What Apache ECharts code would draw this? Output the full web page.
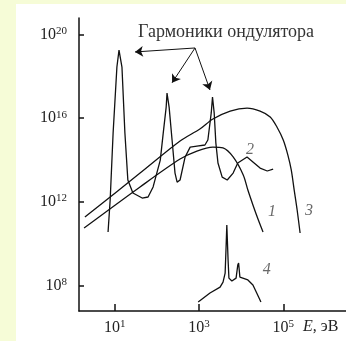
<!DOCTYPE html>
<html>
<head>
<meta charset="utf-8">
<script src="https://cdn.jsdelivr.net/npm/echarts@6/dist/echarts.min.js"></script>
<style>
  html, body { margin: 0; padding: 0; }
  .box { position: relative; width: 346px; height: 341px; background: #f6fcd7; overflow: hidden; }
  .chart { position: absolute; left: 16px; top: 4px; width: 330px; height: 337px; background: #fff; }
</style>
</head>
<body>
<div class="box"><div class="chart" id="chart"></div></div>
<script>
// все значения — десятичные логарифмы (lg E, lg потока)
const curve1E = [0.27, 1.60, 2.55, 2.95, 3.33, 3.57, 3.81, 4.05, 4.16, 4.28, 4.40, 4.52]
const curve1F = [10.76, 12.72, 14.05, 14.43, 14.62, 14.58, 14.15, 13.29, 12.57, 11.86, 11.19, 10.57]

const curve2E = [0.84, 0.89, 0.96, 1.05, 1.10, 1.17, 1.24, 1.31, 1.43, 1.65, 1.79, 1.91, 2.08, 2.15, 2.22, 2.24,
  2.29, 2.36, 2.43, 2.48, 2.55, 2.67, 2.79, 2.95, 3.14, 3.21, 3.29, 3.32, 3.36, 3.40, 3.45, 3.55, 3.67,
  3.81, 3.92, 4.14, 4.28, 4.45, 4.62, 4.76]
const curve2F = [10.57, 12.1, 15.29, 18.44, 19.25, 18.44, 15.29, 13.05, 12.43, 12.19, 12.24, 12.72, 14.0, 15.29, 16.53, 17.2,
  16.53, 14.96, 13.38, 12.95, 13.05, 14.15, 14.62, 14.67, 14.72, 14.96, 16.25, 17.01, 16.25, 14.81, 13.86, 13.19, 13.05,
  13.38, 13.86, 14.15, 13.91, 13.62, 13.48, 13.57]

const curve3E = [0.29, 1.60, 2.55, 3.02, 3.33, 3.74, 4.14, 4.45, 4.69, 4.85, 5.00, 5.11, 5.19, 5.26, 5.33, 5.40]
const curve3F = [11.28, 13.38, 14.91, 15.48, 15.96, 16.34, 16.48, 16.34, 16.06, 15.58, 14.96, 14.24, 13.53, 12.57, 11.62, 10.52]

const curve4E = [2.98, 3.02, 3.26, 3.50, 3.57, 3.62, 3.64, 3.66, 3.69, 3.71, 3.78, 3.88, 3.92, 3.94, 3.97, 4.04, 4.16, 4.28, 4.37, 4.47]
const curve4F = [7.23, 7.32, 7.66, 7.94, 8.18, 8.61, 9.71, 10.9, 9.23, 8.37, 8.23, 8.37, 8.99, 9.09, 8.42, 8.37, 8.28, 8.04, 7.66, 7.23]

const xTicks = [1, 3, 5]
const yTicks = [8, 12, 16, 20]

// стрелки от подписи к пикам гармоник
const arrowFrom = [2.905, 19.35]
const arrowTo = [[1.48, 19.16], [2.36, 17.69], [3.26, 17.35]]

// номера кривых
const curveNames = ['1', '2', '3', '4']
const curveNameE = [4.73, 4.21, 5.61, 4.61]
const curveNameF = [11.52, 14.48, 11.57, 8.75]

const titleText = 'Гармоники ондулятора'

const zip = (a, b) => a.map((v, i) => [v, b[i]])
const serif = '"Liberation Serif", "DejaVu Serif", serif'

const powLabel = {
  fontFamily: serif,
  color: '#222',
  formatter: v => '{b|10}{s|' + v + '}',
  rich: {
    b: { fontSize: 16, fontFamily: serif, color: '#222', lineHeight: 18 },
    s: { fontSize: 11, fontFamily: serif, color: '#222', verticalAlign: 'top', lineHeight: 18 }
  }
}

const lineOf = (name, e, f, smooth) => ({
  name,
  type: 'line',
  data: zip(e, f),
  showSymbol: false,
  smooth: smooth,
  silent: true,
  lineStyle: { color: '#111', width: 1.3 }
})

const instance = echarts.init(document.getElementById('chart'))
instance.setOption({
  animation: false,
  title: {
    text: titleText,
    left: 117,
    top: 14,
    textStyle: { fontFamily: serif, fontSize: 18, fontWeight: 'normal', color: '#333' }
  },
  graphic: [{
    type: 'text',
    left: 287,
    top: 315,
    style: {
      text: '{i|E}, эВ',
      fill: '#222',
      font: '16px ' + serif,
      rich: { i: { fontStyle: 'italic', fontSize: 16, fontFamily: serif, fill: '#222' } }
    }
  }],
  grid: { left: 63, top: 14, right: 0, bottom: 30 },
  xAxis: {
    type: 'value',
    min: 0.15,
    max: 6.49,
    axisLine: { lineStyle: { color: '#111', width: 1.5 } },
    axisTick: { inside: true, length: 7, customValues: xTicks, lineStyle: { color: '#111', width: 1.5 } },
    axisLabel: Object.assign({ customValues: xTicks, margin: 8 }, powLabel),
    splitLine: { show: false }
  },
  yAxis: {
    type: 'value',
    min: 6.8,
    max: 20.78,
    axisLine: { show: true, lineStyle: { color: '#111', width: 1.5 } },
    axisTick: { show: true, inside: true, length: 5, customValues: yTicks, lineStyle: { color: '#111', width: 1.5 } },
    axisLabel: Object.assign({ customValues: yTicks, margin: 12 }, powLabel),
    splitLine: { show: false }
  },
  series: [
    lineOf('1', curve1E, curve1F, 0.3),
    lineOf('2', curve2E, curve2F, false),
    lineOf('3', curve3E, curve3F, 0.3),
    lineOf('4', curve4E, curve4F, false),
    {
      name: 'arrows',
      type: 'line',
      data: [],
      silent: true,
      markLine: {
        silent: true,
        symbol: ['none', 'arrow'],
        symbolSize: 8,
        label: { show: false },
        lineStyle: { color: '#111', width: 1, type: 'solid' },
        data: arrowTo.map(t => [{ coord: arrowFrom }, { coord: t }])
      }
    },
    {
      name: 'curveNames',
      type: 'scatter',
      silent: true,
      symbolSize: 1,
      itemStyle: { color: 'rgba(0,0,0,0)' },
      data: curveNames.map((n, i) => [curveNameE[i], curveNameF[i], n]),
      label: {
        show: true,
        position: 'inside',
        formatter: p => p.value[2],
        fontFamily: serif,
        fontStyle: 'italic',
        fontSize: 16,
        color: '#444'
      }
    }
  ]
})
</script>
</body>
</html>
